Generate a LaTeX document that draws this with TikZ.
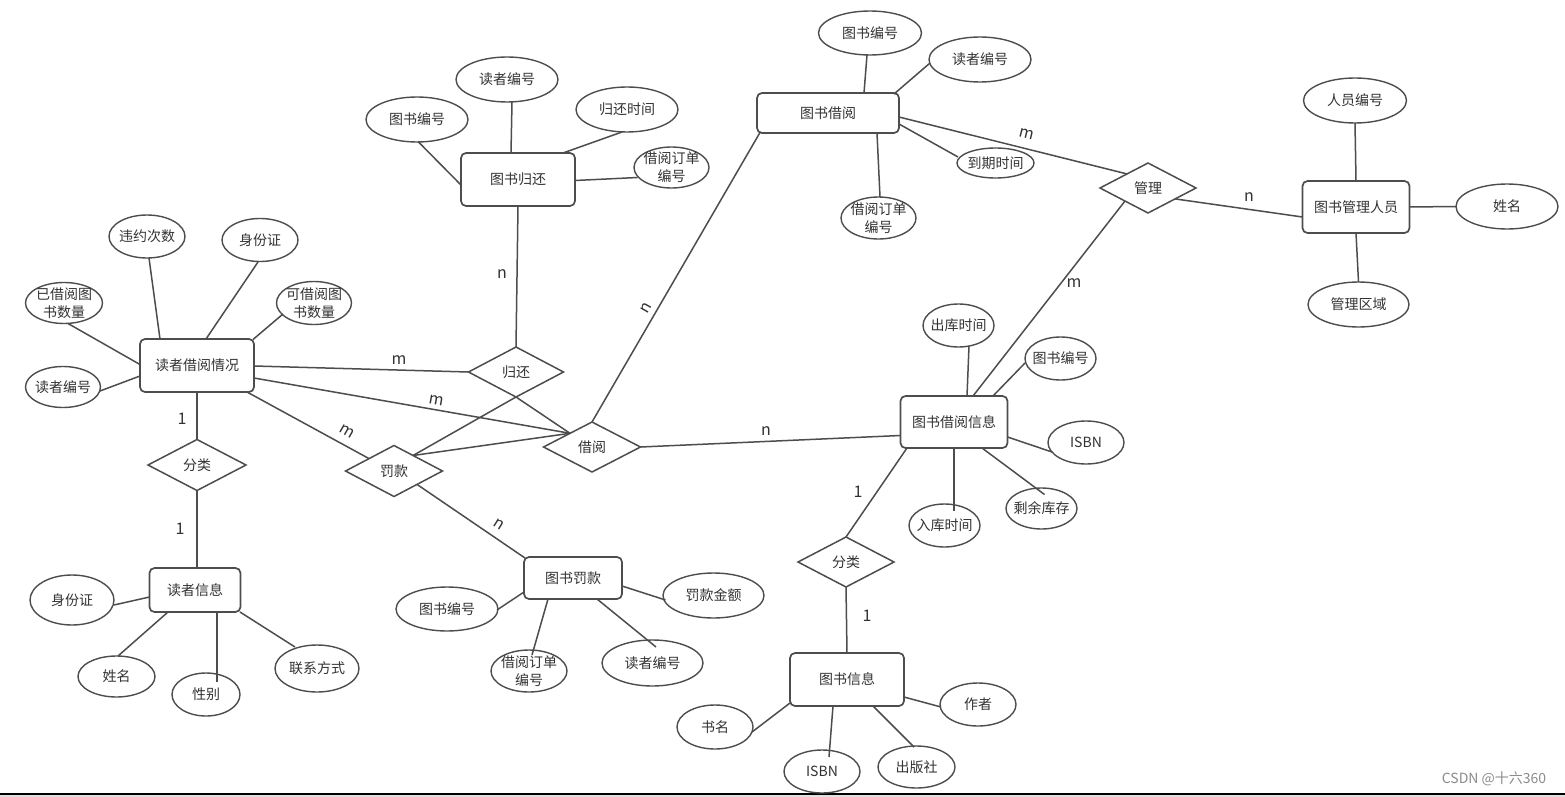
\documentclass[tikz,border=0pt]{standalone}
\usepackage{fontspec}
\setmainfont{Noto Sans CJK SC}
\usetikzlibrary{shapes.geometric}
\definecolor{ln}{HTML}{4D4D4D}
\definecolor{tx}{HTML}{333333}
\begin{document}
\begin{tikzpicture}[x=1pt,y=-1pt,
  font=\fontsize{14pt}{18pt}\selectfont,
  ent/.style={draw=ln, line width=1.7pt, rounded corners=5pt, rectangle, inner sep=0pt, outer sep=0pt, text=tx},
  rel/.style={draw=ln, line width=1.5pt, diamond, inner sep=0pt, outer sep=0pt, text=tx},
  attr/.style={draw=ln, line width=1.4pt, ellipse, inner sep=-6pt, outer sep=0pt, text=tx, align=center},
  conn/.style={draw=ln, line width=1.5pt},
  card/.style={text=tx, font=\fontsize{16pt}{18pt}\selectfont, inner sep=0pt},
  sz/.style 2 args={minimum width=#1pt, minimum height=#2pt}]
\useasboundingbox (0,0) rectangle (1565,797);
\fill[white] (0,0) rectangle (1565,797);
\fill[black!12] (0,795) rectangle (1565,797);
\draw[black, line width=1.5pt] (0,794) -- (1565,794);

% entities
\node[ent, sz={114}{53}] (rb) at (197,365.5) {读者借阅情况};
\node[ent, sz={114}{53}] (gh) at (518,179.5) {图书归还};
\node[ent, sz={142}{40}] (tj) at (828,113) {图书借阅};
\node[ent, sz={107}{52}] (gl) at (1356,207) {图书管理人员};
\node[ent, sz={107}{52}] (jx) at (954,422) {图书借阅信息};
\node[ent, sz={91}{44}] (dx) at (195,590) {读者信息};
\node[ent, sz={98}{42}] (fk) at (573,578) {图书罚款};
\node[ent, sz={114}{53}] (sx) at (847,679.5) {图书信息};

% relationships
\node[rel, sz={95}{50}] (dgh) at (516,372) {归还};
\node[rel, sz={97}{50}] (djy) at (592,447) {借阅};
\node[rel, sz={97}{51}] (dfk) at (394,471) {罚款};
\node[rel, sz={98}{51}] (dfl1) at (197,465) {分类};
\node[rel, sz={96}{50}] (dgl) at (1148,188) {管理};
\node[rel, sz={96}{50}] (dfl2) at (846,562) {分类};

% attributes
\node[attr, sz={76}{43}] (e1) at (147,236.5) {违约次数};
\node[attr, sz={76}{43}] (e2) at (260,240) {身份证};
\node[attr, sz={77}{41}] (e3) at (64,303) {已借阅图\\书数量};
\node[attr, sz={75}{43}] (e4) at (314,303) {可借阅图\\书数量};
\node[attr, sz={75}{41}] (e5) at (63,387) {读者编号};
\node[attr, sz={102}{45}] (e6) at (417,119.5) {图书编号};
\node[attr, sz={102}{45}] (e7) at (507,79.5) {读者编号};
\node[attr, sz={102}{45}] (e8) at (627,109.5) {归还时间};
\node[attr, sz={75}{41}] (e9) at (671.5,167.5) {借阅订单\\编号};
\node[attr, sz={103}{44}] (e10) at (870,33) {图书编号};
\node[attr, sz={102}{45}] (e11) at (980,59.5) {读者编号};
\node[attr, sz={77}{30}] (e12) at (995.5,163) {到期时间};
\node[attr, sz={75}{42}] (e13) at (878.5,218) {借阅订单\\编号};
\node[attr, sz={103}{45}] (e14) at (1355,100.5) {人员编号};
\node[attr, sz={102}{45}] (e15) at (1507,206.5) {姓名};
\node[attr, sz={101}{45}] (e16) at (1358.5,304.5) {管理区域};
\node[attr, sz={71}{43}] (e17) at (958.5,325.5) {出库时间};
\node[attr, sz={71}{43}] (e18) at (1060.5,358.5) {图书编号};
\node[attr, sz={76}{43}] (e19) at (1086,442.5) {ISBN};
\node[attr, sz={71}{41}] (e20) at (1041.5,508.5) {剩余库存};
\node[attr, sz={71}{43}] (e21) at (944.5,525.5) {入库时间};
\node[attr, sz={102}{44}] (e22) at (447,609) {图书编号};
\node[attr, sz={76}{42}] (e23) at (529,671) {借阅订单\\编号};
\node[attr, sz={101}{46}] (e24) at (652.5,663) {读者编号};
\node[attr, sz={101}{45}] (e25) at (713.5,595.5) {罚款金额};
\node[attr, sz={76}{44}] (e26) at (715,727) {书名};
\node[attr, sz={76}{43}] (e27) at (822,771.5) {ISBN};
\node[attr, sz={77}{42}] (e28) at (916.5,767) {出版社};
\node[attr, sz={76}{43}] (e29) at (978,704.5) {作者};
\node[attr, sz={84}{50}] (e30) at (72,600) {身份证};
\node[attr, sz={77}{41}] (e31) at (116.5,676.5) {姓名};
\node[attr, sz={68}{43}] (e32) at (206,694.5) {性别};
\node[attr, sz={84}{47}] (e33) at (317,668.5) {联系方式};

% connectors: reader borrowing
\draw[conn] ([shift={(-37,-26.5)}]rb.center) -- ([shift={(2,21.5)}]e1.center);
\draw[conn] ([shift={(9,-26.5)}]rb.center) -- ([shift={(-2,22)}]e2.center);
\draw[conn] ([shift={(-57,-1)}]rb.center) -- ([shift={(4,20.5)}]e3.center);
\draw[conn] ([shift={(56,-26)}]rb.center) -- ([shift={(-31,11)}]e4.center);
\draw[conn] ([shift={(-57,10.5)}]rb.center) -- ([shift={(37,4)}]e5.center);
\draw[conn] ([shift={(57,0.5)}]rb.center) -- (dgh.west);
\draw[conn] ([shift={(57,12.5)}]rb.center) -- ([shift={(-22,-13.7)}]djy.center);
\draw[conn] ([shift={(50,26.5)}]rb.center) -- ([shift={(-25,-12.4)}]dfk.center);
\draw[conn] (rb.south) -- (dfl1.north);
\draw[conn] (dfl1.south) -- (dfl1.south |- dx.north);

% reader info
\draw[conn] ([shift={(-45.5,7)}]dx.center) -- ([shift={(42,5)}]e30.center);
\draw[conn] ([shift={(-27,22)}]dx.center) -- ([shift={(1.5,-20.5)}]e31.center);
\draw[conn] ([shift={(22,22)}]dx.center) -- ([shift={(11,-13)}]e32.center);
\draw[conn] ([shift={(45,22)}]dx.center) -- ([shift={(-22,-21.5)}]e33.center);

% relationships among diamonds
\draw[conn] (dgh.north) -- (gh.south);
\draw[conn] (dgh.south) -- ([shift={(-22,-13.7)}]djy.center);
\draw[conn] (dgh.south) -- ([shift={(19,-15.5)}]dfk.center);
\draw[conn] ([shift={(19,-15.5)}]dfk.center) -- ([shift={(-22,-13.7)}]djy.center);
\draw[conn] (djy.north) -- ([shift={(-68,19.5)}]tj.center);
\draw[conn] (djy.east) -- ([shift={(-53.5,13.5)}]jx.center);
\draw[conn] ([shift={(23,13.4)}]dfk.center) -- ([shift={(-48,-20)}]fk.center);

% book return
\draw[conn] ([shift={(-57,5.5)}]gh.center) -- ([shift={(1,22)}]e6.center);
\draw[conn] ([shift={(-7,-26.5)}]gh.center) -- ([shift={(5,22.5)}]e7.center);
\draw[conn] ([shift={(45,-26.5)}]gh.center) -- ([shift={(-5,22.5)}]e8.center);
\draw[conn] ([shift={(57,1)}]gh.center) -- ([shift={(-34,10)}]e9.center);

% book borrowing
\draw[conn] ([shift={(36,-20)}]tj.center) -- ([shift={(-3,22)}]e10.center);
\draw[conn] ([shift={(66,-19)}]tj.center) -- ([shift={(-50,3.5)}]e11.center);
\draw[conn] ([shift={(71,11)}]tj.center) -- ([shift={(-37.5,-6)}]e12.center);
\draw[conn] ([shift={(49,20)}]tj.center) -- ([shift={(1.5,-21)}]e13.center);
\draw[conn] ([shift={(71,4)}]tj.center) -- ([shift={(-21,-14.06)}]dgl.center);

% management
\draw[conn] ([shift={(27,10.9)}]dgl.center) -- ([shift={(-53.5,10)}]gl.center);
\draw[conn] ([shift={(-23,13)}]dgl.center) -- ([shift={(19,-26)}]jx.center);
\draw[conn] (gl.north) -- (e14.south);
\draw[conn] (gl.east) -- (e15.west);
\draw[conn] (gl.south) -- (e16.north);

% borrowing info
\draw[conn] ([shift={(13,-26)}]jx.center) -- ([shift={(10.5,20.5)}]e17.center);
\draw[conn] ([shift={(39,-26)}]jx.center) -- ([shift={(-35.5,4.5)}]e18.center);
\draw[conn] ([shift={(53.5,15)}]jx.center) -- ([shift={(-34,9.5)}]e19.center);
\draw[conn] ([shift={(28,26)}]jx.center) -- ([shift={(3,-14)}]e20.center);
\draw[conn] ([shift={(0,26)}]jx.center) -- ([shift={(9.5,-14.5)}]e21.center);
\draw[conn] ([shift={(-47,26)}]jx.center) -- (dfl2.north);
\draw[conn] (dfl2.south) -- (sx.north);

% book info
\draw[conn] ([shift={(-57,23.5)}]sx.center) -- ([shift={(37,5)}]e26.center);
\draw[conn] ([shift={(-14,26.5)}]sx.center) -- ([shift={(7,-14.5)}]e27.center);
\draw[conn] ([shift={(26,26.5)}]sx.center) -- ([shift={(-2.5,-20)}]e28.center);
\draw[conn] ([shift={(57,17.5)}]sx.center) -- ([shift={(-37,2.5)}]e29.center);

% fine
\draw[conn] ([shift={(-49,14)}]fk.center) -- ([shift={(50,1)}]e22.center);
\draw[conn] ([shift={(-25,21)}]fk.center) -- ([shift={(3,-16)}]e23.center);
\draw[conn] ([shift={(24,21)}]fk.center) -- ([shift={(3.5,-16)}]e24.center);
\draw[conn] ([shift={(49,8)}]fk.center) -- ([shift={(-48,4.5)}]e25.center);

% cardinalities
\node[card] (c1) at (399,360) {m};
\node[card, rotate=-10] (c2) at (437,400) {m};
\node[card, rotate=-30] (c3) at (347,431) {m};
\node[card] (c4) at (502,274) {n};
\node[card, rotate=60] (c5) at (646,308) {n};
\node[card, rotate=-32] (c6) at (499,524) {n};
\node[card] (c7) at (766,431) {n};
\node[card, rotate=-14] (c8) at (1027,134) {m};
\node[card] (c9) at (1249,197) {n};
\node[card] (c10) at (1074,283) {m};
\node[card] (c11) at (182,419) {1};
\node[card] (c12) at (180,529) {1};
\node[card] (c13) at (858,492) {1};
\node[card] (c14) at (867,616) {1};

% watermark
\node[text=black!45, font=\fontsize{14pt}{16pt}\selectfont, inner sep=0pt] (wm) at (1494,779) {CSDN @十六360};
\end{tikzpicture}
\end{document}
